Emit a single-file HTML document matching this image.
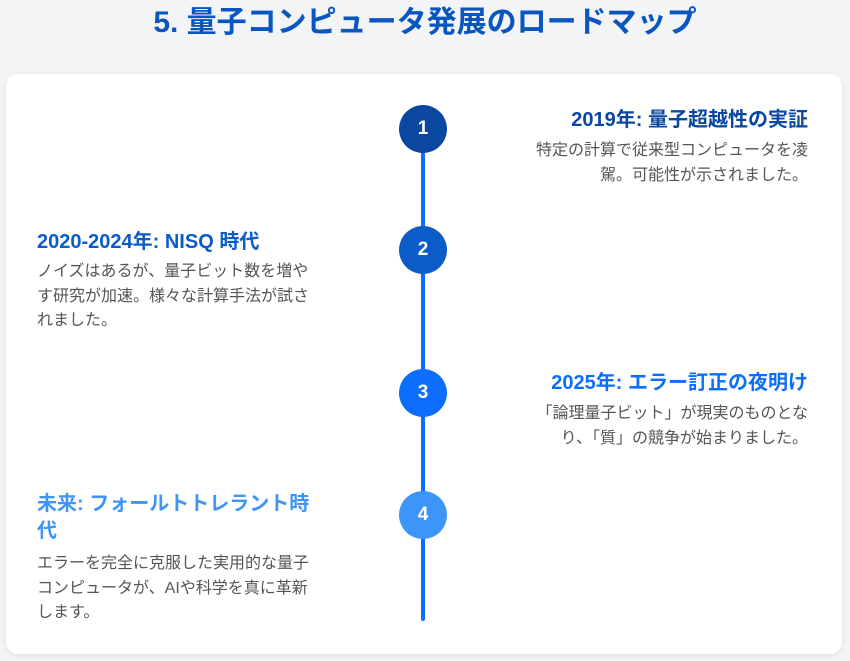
<!DOCTYPE html>
<html><head><meta charset="utf-8"><style>
*{margin:0;padding:0;box-sizing:border-box}
body{width:850px;height:661px;background:#f2f4f6;font-family:"Liberation Sans","Noto Sans CJK JP",sans-serif;position:relative;overflow:hidden}
h1{position:absolute;top:3px;left:0;width:850px;text-align:center;font-size:30px;font-weight:bold;color:#0a56c0;line-height:40px}
.card{position:absolute;left:6px;top:74px;width:836px;height:580px;background:#fff;border-radius:12px;box-shadow:0 2px 6px rgba(0,0,0,.08)}
.line{position:absolute;left:421px;top:130px;width:4px;height:491px;background:#0d6efd;border-radius:2px}
.c{position:absolute;left:399px;width:48px;height:48px;border-radius:50%;color:#fff;font-weight:bold;font-size:19px;text-align:center;line-height:48px}
.t{position:absolute;font-size:20px;font-weight:bold;line-height:27px;white-space:nowrap}
.d{position:absolute;font-size:16px;color:#555;line-height:24.5px;white-space:nowrap}
.r{right:42px;text-align:right}
.l{left:37px}
</style></head><body>
<h1>5. 量子コンピュータ発展のロードマップ</h1>
<div class="card"></div>
<div class="line"></div>
<div class="c" style="top:105px;background:#0a47a0">1</div>
<div class="c" style="top:226px;background:#0b5cc8">2</div>
<div class="c" style="top:369px;background:#0d6efd">3</div>
<div class="c" style="top:491px;background:#3d95f7">4</div>

<div class="t r" style="top:107px;color:#0a47a0">2019年: 量子超越性の実証</div>
<div class="d r" style="top:139px">特定の計算で従来型コンピュータを凌<br>駕。可能性が示されました。</div>

<div class="t l" style="top:229px;color:#0b5cc8">2020-2024年: NISQ 時代</div>
<div class="d l" style="top:260px">ノイズはあるが、量子ビット数を増や<br>す研究が加速。様々な計算手法が試さ<br>れました。</div>

<div class="t r" style="top:370px;color:#0d6efd">2025年: エラー訂正の夜明け</div>
<div class="d r" style="top:402px">「論理量子ビット」が現実のものとな<br>り、「質」の競争が始まりました。</div>

<div class="t l" style="top:491px;color:#3d95f7">未来: フォールトトレラント時<br>代</div>
<div class="d l" style="top:552px">エラーを完全に克服した実用的な量子<br>コンピュータが、AIや科学を真に革新<br>します。</div>
</body></html>
